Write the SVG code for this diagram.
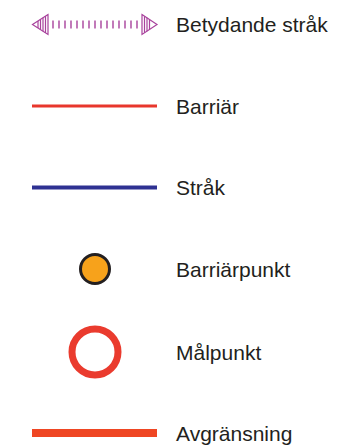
<svg xmlns="http://www.w3.org/2000/svg" width="341" height="447" viewBox="0 0 341 447">
<style>
text{font-family:"Liberation Sans",Arial,sans-serif;font-size:21px;fill:#231f20}
.pur{stroke:#a8429c;fill:none;stroke-width:1.2}
</style>
<rect width="341" height="447" fill="#ffffff"/>
<g id="legend-betydande">
<path class="pur" d="M48,14.5 L32.5,24.5 L48,34.5 Z"/>
<path class="pur" d="M38,21 V28 M40.5,19.3 V29.7 M43,17.7 V31.3 M45.5,16.1 V32.9"/>
<line x1="52.3" y1="24.5" x2="137.7" y2="24.5" stroke="#a8429c" stroke-width="8" stroke-dasharray="1.4 4.6"/>
<path class="pur" d="M142,14.5 L157,24.5 L142,34.5 Z"/>
<path class="pur" d="M144.5,16.2 V32.8 M147,17.8 V31.2 M149.5,19.5 V29.5"/>
<text x="176" y="32">Betydande stråk</text>
</g>
<g id="legend-barriar">
<line x1="32" y1="106" x2="157" y2="106" stroke="#e8372c" stroke-width="3"/>
<text x="176" y="113.5">Barriär</text>
</g>
<g id="legend-strak">
<line x1="32" y1="187.5" x2="157" y2="187.5" stroke="#2e3192" stroke-width="4"/>
<text x="176" y="195">Stråk</text>
</g>
<g id="legend-barriarpunkt">
<circle cx="95" cy="269" r="14.5" fill="#f7a21b" stroke="#231f20" stroke-width="3"/>
<text x="176" y="276.5">Barriärpunkt</text>
</g>
<g id="legend-malpunkt">
<circle cx="95" cy="352" r="23" fill="none" stroke="#ea3b2e" stroke-width="7"/>
<text x="176" y="359.5">Målpunkt</text>
</g>
<g id="legend-avgransning">
<line x1="32" y1="433" x2="157" y2="433" stroke="#ef4623" stroke-width="8"/>
<text x="176" y="440.5">Avgränsning</text>
</g>
</svg>
